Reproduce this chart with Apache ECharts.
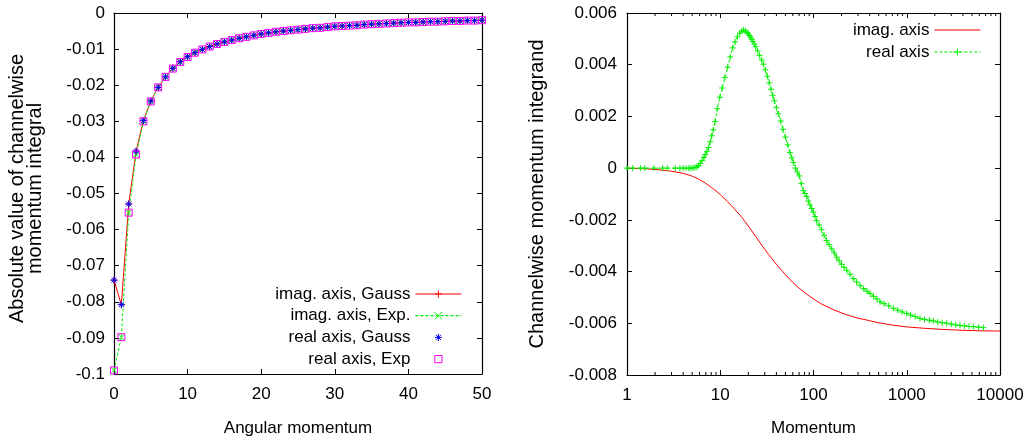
<!DOCTYPE html>
<html>
<head>
<meta charset="utf-8">
<script src="https://cdn.jsdelivr.net/npm/echarts@6/dist/echarts.min.js"></script>
<style>
html,body{margin:0;padding:0;background:#fff;}
#c{width:1029px;height:445px;}
</style>
</head>
<body>
<div id="c"></div>
<script>
// ---------- Left panel: angular momentum ----------
const L_X = [0,1,2,3,4,5,6,7,8,9,10,11,12,13,14,15,16,17,18,19,20,21,22,23,24,25,26,27,28,29,30,31,32,33,34,35,36,37,38,39,40,41,42,43,44,45,46,47,48,49,50];
const IMAG_GAUSS = [-0.0740,-0.0808,-0.0529,-0.0383,-0.0298,-0.0244,-0.0206,-0.0177,-0.0153,-0.0135,-0.0121,-0.0110,-0.0101,-0.0093,-0.0086,-0.0080,-0.0075,-0.0070,-0.0066,-0.0062,-0.0058,-0.0055,-0.0052,-0.0050,-0.0048,-0.0046,-0.0044,-0.0042,-0.0041,-0.0039,-0.0037,-0.0036,-0.0035,-0.0034,-0.0032,-0.0031,-0.0030,-0.0029,-0.0028,-0.0027,-0.0026,-0.0026,-0.0025,-0.0024,-0.0024,-0.0023,-0.0022,-0.0022,-0.0021,-0.0021,-0.0020];
const IMAG_EXP   = [-0.0990,-0.0898,-0.0553,-0.0392,-0.0300,-0.0245,-0.0206,-0.0177,-0.0154,-0.0136,-0.0122,-0.0110,-0.0101,-0.0093,-0.0086,-0.0080,-0.0075,-0.0070,-0.0066,-0.0062,-0.0058,-0.0055,-0.0052,-0.0050,-0.0048,-0.0046,-0.0044,-0.0042,-0.0041,-0.0039,-0.0037,-0.0036,-0.0035,-0.0034,-0.0032,-0.0031,-0.0030,-0.0029,-0.0028,-0.0027,-0.0026,-0.0026,-0.0025,-0.0024,-0.0024,-0.0023,-0.0022,-0.0022,-0.0021,-0.0021,-0.0020];
const REAL_GAUSS = [-0.0740,-0.0808,-0.0529,-0.0383,-0.0298,-0.0244,-0.0206,-0.0177,-0.0153,-0.0135,-0.0121,-0.0110,-0.0101,-0.0093,-0.0086,-0.0080,-0.0075,-0.0070,-0.0066,-0.0062,-0.0058,-0.0055,-0.0052,-0.0050,-0.0048,-0.0046,-0.0044,-0.0042,-0.0041,-0.0039,-0.0037,-0.0036,-0.0035,-0.0034,-0.0032,-0.0031,-0.0030,-0.0029,-0.0028,-0.0027,-0.0026,-0.0026,-0.0025,-0.0024,-0.0024,-0.0023,-0.0022,-0.0022,-0.0021,-0.0021,-0.0020];
const REAL_EXP   = [-0.0990,-0.0898,-0.0553,-0.0392,-0.0300,-0.0245,-0.0206,-0.0177,-0.0154,-0.0136,-0.0122,-0.0110,-0.0101,-0.0093,-0.0086,-0.0080,-0.0075,-0.0070,-0.0066,-0.0062,-0.0058,-0.0055,-0.0052,-0.0050,-0.0048,-0.0046,-0.0044,-0.0042,-0.0041,-0.0039,-0.0037,-0.0036,-0.0035,-0.0034,-0.0032,-0.0031,-0.0030,-0.0029,-0.0028,-0.0027,-0.0026,-0.0026,-0.0025,-0.0024,-0.0024,-0.0023,-0.0022,-0.0022,-0.0021,-0.0021,-0.0020];
const L_NAMES = ['imag. axis, Gauss','imag. axis, Exp.','real axis, Gauss','real axis, Exp'];
const L_XMIN = 0, L_XMAX = 50, L_XSTEP = 10;
const L_YMIN = -0.1, L_YMAX = 0, L_YSTEP = 0.01;

// ---------- Right panel: momentum ----------
const R_IMAG_X = [1,1.5,2,3,4,5,6,7,8,9,10,12,14,17,20,24,28,33,40,50,60,70,85,100,120,140,170,200,250,300,400,500,700,1000,1500,2500,4000,6000,10000];
const R_IMAG_Y = [0,-0.00002,-0.00005,-0.00012,-0.0002,-0.00031,-0.00044,-0.00059,-0.00074,-0.00088,-0.00102,-0.0013,-0.00155,-0.0019,-0.00224,-0.00264,-0.00299,-0.00334,-0.00372,-0.00412,-0.00442,-0.00464,-0.00488,-0.00506,-0.00524,-0.00536,-0.0055,-0.0056,-0.00572,-0.0058,-0.0059,-0.00598,-0.00607,-0.00614,-0.00619,-0.00624,-0.00627,-0.00629,-0.0063];
const R_REAL_X = [1,1.15,1.4,1.55,1.95,2.4,2.7,3.3,3.7,4.0,4.3,4.6,4.85,5.1,5.35,5.6,5.85,6.1,6.4,6.7,6.9,7.2,7.5,7.8,8.1,8.4,8.8,9.3,9.9,10.5,11.2,12.0,12.8,13.6,14.4,15.3,16.2,17.0,17.8,18.6,19.4,20.0,20.6,21.2,21.8,22.4,23.2,24.0,25.2,26.4,27.8,29.0,30.5,32.0,33.5,35.0,36.5,38.0,40.0,42.0,44.5,47.0,50.0,53.0,56.0,58.5,60.8,64.0,67.0,70.5,74.0,77.8,81.0,84.5,88.0,91.7,95.5,99.6,104,108,115,122,130,138,147,157,167,177,188,200,213,227,246,267,290,315,345,375,404,440,480,517,570,640,718,800,890,998,1100,1230,1387,1550,1750,1928,2150,2400,2680,3000,3350,3724,4150,4650,5176,5900,6627];
const R_REAL_Y = [0,0,0,0,0,0,0,0,0,0,0,0,0,0.00001,0.00002,0.00005,0.0001,0.00018,0.0003,0.00042,0.00052,0.00065,0.0008,0.00102,0.00125,0.00148,0.0018,0.0023,0.00274,0.0031,0.0035,0.0039,0.0043,0.00465,0.00488,0.00508,0.00522,0.0053,0.00534,0.00531,0.00525,0.00519,0.00513,0.00506,0.00498,0.0049,0.0048,0.00469,0.00453,0.00436,0.00418,0.00402,0.0038,0.00355,0.0033,0.00305,0.00282,0.0026,0.00234,0.0021,0.00182,0.0015,0.0012,0.0009,0.0006,0.0004,0.00022,0.0,-0.00015,-0.0003,-0.0006,-0.00087,-0.00098,-0.0011,-0.00127,-0.00142,-0.00156,-0.0017,-0.00187,-0.00203,-0.0022,-0.00238,-0.0026,-0.0028,-0.00296,-0.00312,-0.00328,-0.00344,-0.00358,-0.00372,-0.00384,-0.00395,-0.0041,-0.00427,-0.0044,-0.00453,-0.00466,-0.00476,-0.00485,-0.00496,-0.00506,-0.00517,-0.00524,-0.00532,-0.00542,-0.00549,-0.00556,-0.00562,-0.00568,-0.00574,-0.00581,-0.00585,-0.00588,-0.00591,-0.00595,-0.00598,-0.006,-0.00603,-0.00606,-0.00608,-0.0061,-0.00612,-0.00613,-0.00615,-0.00617];
const R_NAMES = ['imag. axis','real axis'];
const R_XMIN = 1, R_XMAX = 10000;
const R_YMIN = -0.008, R_YMAX = 0.006, R_YSTEP = 0.002;
const R_MINOR_TICKS = [2,3,4,5,6,7,8,9,20,30,40,50,60,70,80,90,200,300,400,500,600,700,800,900,2000,3000,4000,5000,6000,7000,8000,9000];

// ---------- styling ----------
const FONT = '"Liberation Sans", Arial, Helvetica, sans-serif';
const TICK_FS = 17;
const RED = '#ff0000', GREEN = '#00f000', BLUE = '#0000ff', MAGENTA = '#ff00ff';
const SYM_PLUS = 'path://M0,5L10,5M5,0L5,10';
const SYM_CROSS = 'path://M0,0L10,10M10,0L0,10';
const SYM_STAR = 'path://M0,5L10,5M5,0L5,10M1.5,1.5L8.5,8.5M8.5,1.5L1.5,8.5';
const SYM_SQUARE = 'path://M0,0L10,0L10,10L0,10Z';

const zip = (xs, ys) => xs.map((x, i) => [x, ys[i]]);

function axisCommon(extra) {
  return Object.assign({
    axisLine: {show: true, onZero: false, lineStyle: {color: '#000', width: 1.2}},
    axisTick: {show: true, inside: true, length: 5, lineStyle: {color: '#000', width: 1}},
    axisLabel: {show: true, color: '#000', fontSize: TICK_FS, fontFamily: FONT},
    splitLine: {show: false},
    minorTick: {show: false},
    minorSplitLine: {show: false}
  }, extra);
}
function mirror(extra) {
  const a = axisCommon(extra);
  a.axisLabel = {show: false};
  a.name = '';
  return a;
}
const nameStyle = {color: '#000', fontSize: 17, fontFamily: FONT};

function lineSeries(name, data, color, symbol, size, lineType, showLine, xi, yi) {
  return {
    type: 'line', name: name, data: data,
    xAxisIndex: xi, yAxisIndex: yi,
    symbol: symbol, symbolSize: size, showSymbol: symbol !== 'none', showAllSymbol: true,
    itemStyle: {color: 'none', borderColor: color, borderWidth: 1},
    lineStyle: {color: color, width: 1, type: lineType, opacity: showLine ? 1 : 0},
    emphasis: {disabled: true},
    animation: false, clip: true
  };
}
function legendItem(name, color, lineType, showLine, showSym) {
  return {
    name: name,
    itemStyle: {color: 'none', borderColor: color, borderWidth: 1, opacity: showSym ? 1 : 0},
    lineStyle: {color: color, width: showLine ? 1.2 : 1, type: lineType, opacity: showLine ? 1 : 0}
  };
}

const option = {
  animation: false,
  backgroundColor: '#fff',
  grid: [
    {left: 114, right: 547, top: 13, bottom: 71, containLabel: false, outerBoundsMode: 'none'},
    {left: 627, right: 29, top: 13, bottom: 70, containLabel: false, outerBoundsMode: 'none'}
  ],
  xAxis: [
    axisCommon({gridIndex: 0, type: 'value', position: 'bottom', min: L_XMIN, max: L_XMAX, interval: L_XSTEP,
      name: 'Angular momentum', nameLocation: 'middle', nameGap: 46, nameTextStyle: nameStyle,
      axisLabel: {color: '#000', fontSize: TICK_FS, fontFamily: FONT, margin: 12}}),
    mirror({gridIndex: 0, type: 'value', position: 'top', min: L_XMIN, max: L_XMAX, interval: L_XSTEP}),
    axisCommon({gridIndex: 1, type: 'log', logBase: 10, position: 'bottom', min: R_XMIN, max: R_XMAX,
      name: 'Momentum', nameLocation: 'middle', nameGap: 45, nameTextStyle: nameStyle,
      axisLabel: {color: '#000', fontSize: TICK_FS, fontFamily: FONT, margin: 12, formatter: v => String(Math.round(v))}}),
    mirror({gridIndex: 1, type: 'log', logBase: 10, position: 'top', min: R_XMIN, max: R_XMAX})
  ],
  yAxis: [
    axisCommon({gridIndex: 0, type: 'value', position: 'left', min: L_YMIN, max: L_YMAX, interval: L_YSTEP,
      name: 'Absolute value of channelwise\nmomentum integral', nameLocation: 'middle', nameRotate: 90, nameGap: 70,
      nameTextStyle: {color: '#000', fontSize: 20, lineHeight: 18, fontFamily: FONT, padding: [0, 0, 0, 10]},
      axisLabel: {color: '#000', fontSize: TICK_FS, fontFamily: FONT, margin: 9}}),
    mirror({gridIndex: 0, type: 'value', position: 'right', min: L_YMIN, max: L_YMAX, interval: L_YSTEP}),
    axisCommon({gridIndex: 1, type: 'value', position: 'left', min: R_YMIN, max: R_YMAX, interval: R_YSTEP,
      name: 'Channelwise momentum integrand', nameLocation: 'middle', nameRotate: 90, nameGap: 81,
      nameTextStyle: {color: '#000', fontSize: 20, lineHeight: 18, fontFamily: FONT},
      axisLabel: {color: '#000', fontSize: TICK_FS, fontFamily: FONT, margin: 10}}),
    mirror({gridIndex: 1, type: 'value', position: 'right', min: R_YMIN, max: R_YMAX, interval: R_YSTEP})
  ],
  legend: [
    {
      orient: 'vertical', right: 567, top: 285, padding: 0, itemGap: 3.7,
      itemWidth: 46, itemHeight: 9, align: 'right', selectedMode: false,
      textStyle: {color: '#000', fontSize: 17, lineHeight: 18, fontFamily: FONT},
      data: [
        legendItem(L_NAMES[0], RED, 'solid', true, true),
        legendItem(L_NAMES[1], GREEN, [3, 2], true, true),
        legendItem(L_NAMES[2], BLUE, 'solid', false, true),
        legendItem(L_NAMES[3], MAGENTA, 'solid', false, true)
      ]
    },
    {
      orient: 'vertical', right: 48, top: 21, padding: 0, itemGap: 4,
      itemWidth: 46, itemHeight: 9, align: 'right', selectedMode: false,
      textStyle: {color: '#000', fontSize: 17, lineHeight: 18, fontFamily: FONT},
      data: [
        legendItem(R_NAMES[0], RED, 'solid', true, false),
        legendItem(R_NAMES[1], GREEN, [3, 2], true, true)
      ]
    }
  ],
  series: [
    lineSeries(L_NAMES[0], zip(L_X, IMAG_GAUSS), RED, SYM_PLUS, 7, 'solid', true, 0, 0),
    lineSeries(L_NAMES[1], zip(L_X, IMAG_EXP), GREEN, SYM_CROSS, 6, [3, 2], true, 0, 0),
    lineSeries(L_NAMES[2], zip(L_X, REAL_GAUSS), BLUE, SYM_STAR, 7, 'solid', false, 0, 0),
    lineSeries(L_NAMES[3], zip(L_X, REAL_EXP), MAGENTA, SYM_SQUARE, 7, 'solid', false, 0, 0),
    Object.assign(lineSeries(R_NAMES[0], zip(R_IMAG_X, R_IMAG_Y), RED, 'circle', 4, 'solid', true, 2, 2), {showSymbol: false}),
    lineSeries(R_NAMES[1], zip(R_REAL_X, R_REAL_Y), GREEN, SYM_PLUS, 6, [3, 2], true, 2, 2),
    {
      type: 'custom', name: 'minor ticks', xAxisIndex: 2, yAxisIndex: 2, silent: true, clip: false,
      data: R_MINOR_TICKS.map(v => [v, 0]),
      encode: {x: 0, y: 1},
      renderItem: function (params, api) {
        const v = api.value(0);
        const b = api.coord([v, R_YMIN]);
        const t = api.coord([v, R_YMAX]);
        const st = {stroke: '#000', lineWidth: 1};
        return {type: 'group', children: [
          {type: 'line', shape: {x1: b[0], y1: b[1], x2: b[0], y2: b[1] - 3}, style: st},
          {type: 'line', shape: {x1: t[0], y1: t[1], x2: t[0], y2: t[1] + 3}, style: st}
        ]};
      }
    }
  ]
};

const chart = echarts.init(document.getElementById('c'), null, {renderer: 'canvas'});
chart.setOption(option);
</script>
</body>
</html>
